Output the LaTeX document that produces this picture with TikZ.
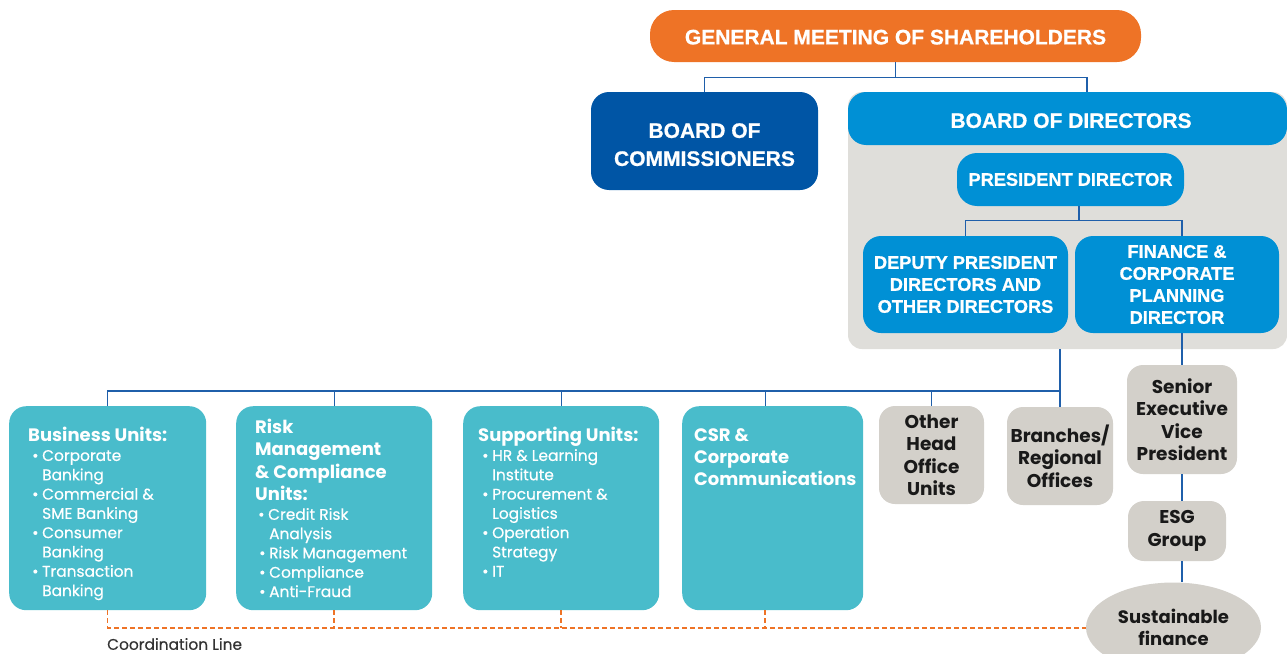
\documentclass[tikz,border=0pt]{standalone}
\usepackage{fontspec}
\setmainfont{Poppins}
\newfontfamily\capsfont[BoldFeatures={FakeBold=0.8}]{Liberation Sans}
\newfontfamily\medfont[FakeBold=0.5]{Poppins}
\usetikzlibrary{calc,shapes.geometric}

\definecolor{gmsorange}{HTML}{EE7326}
\definecolor{bocblue}{HTML}{0055A5}
\definecolor{bodblue}{HTML}{0090D5}
\definecolor{panelgray}{HTML}{DFDEDA}
\definecolor{boxgray}{HTML}{D3D0CA}
\definecolor{unitteal}{HTML}{49BCCB}
\definecolor{linkblue}{HTML}{1F5FAA}
\definecolor{labelgray}{HTML}{333333}

% text helpers for the unit boxes
\newcommand\utitle{\fontsize{18}{22.3}\selectfont\bfseries}
\newcommand\ubody{\medfont\fontsize{15.4}{19.3}\selectfont}
\newcommand\bul[1]{\mbox{\hspace*{4pt}\makebox[10pt][l]{\textbullet}#1}}
\newcommand\cnt[1]{\mbox{\hspace*{14pt}#1}}

\begin{document}
\begin{tikzpicture}[x=1pt,y=-1pt,
  capsbox/.style={inner sep=0pt, text=white, align=center,
    font=\capsfont\bfseries\fontsize{21}{27}\selectfont},
  capssmall/.style={capsbox, font=\capsfont\bfseries\fontsize{18.2}{22}\selectfont},
  unit/.style={fill=unitteal, rounded corners=17pt, inner ysep=0pt, text=white,
    minimum height=204pt, anchor=north west},
  graybox/.style={fill=boxgray, rounded corners=16pt, inner sep=0pt, align=center,
    text=black!90, font=\bfseries\fontsize{18.5}{22.5}\selectfont},
  conn/.style={draw=linkblue, line width=1.3pt},
  coordln/.style={draw=gmsorange, line width=1.5pt, dash pattern=on 5pt off 3pt},
]
\useasboundingbox (0,0) rectangle (1287,653);

% top of the structure
\node[capsbox, fill=gmsorange, rounded corners=24pt, minimum width=491pt, minimum height=52pt]
  (gms) at (895.5,36) {\rule{0pt}{17pt}GENERAL MEETING OF SHAREHOLDERS};
\node[capsbox, fill=bocblue, rounded corners=18pt, minimum width=227pt, minimum height=98pt]
  (boc) at (704.5,141) {\rule{0pt}{22pt}BOARD OF\\[1pt]COMMISSIONERS};

% board of directors panel
\node[fill=panelgray, rounded corners=14pt, minimum width=439pt, minimum height=257pt, inner sep=0pt]
  (panel) at (1067.5,220.5) {};
\node[capsbox, fill=bodblue, rounded corners=18pt, minimum width=439pt, minimum height=53pt]
  (bod) at (1067.5,118.5) {\rule{0pt}{19pt}\hspace*{7pt}BOARD OF DIRECTORS};
\node[capssmall, fill=bodblue, rounded corners=20pt, minimum width=227pt, minimum height=53pt]
  (pd) at (1070.5,179.5) {PRESIDENT DIRECTOR};
\node[capssmall, fill=bodblue, rounded corners=18pt, minimum width=205pt, minimum height=97pt]
  (dpd) at (965.5,284.5) {DEPUTY PRESIDENT\\DIRECTORS AND\\OTHER DIRECTORS};
\node[capssmall, fill=bodblue, rounded corners=18pt, minimum width=204pt, minimum height=97pt]
  (fcpd) at (1177,284.5) {FINANCE \&\\CORPORATE\\PLANNING\\DIRECTOR};

% operating units
\node[unit, inner xsep=19pt] (bu) at (9,406) {\parbox[c][204pt][t]{159pt}{\vspace*{21pt}%
  {\utitle\mbox{Business Units:}\par}%
  {\ubody\bul{Corporate}\\\cnt{Banking}\\\bul{Commercial \&}\\\cnt{SME Banking}\\\bul{Consumer}\\\cnt{Banking}\\\bul{Transaction}\\\cnt{Banking}\par}}};
\node[unit, inner xsep=19pt] (rm) at (236,406) {\parbox[c][204pt][t]{158pt}{\vspace*{13pt}%
  {\utitle\mbox{Risk}\\\mbox{Management}\\\mbox{\& Compliance}\\\mbox{Units:}\par}%
  {\ubody\hspace*{-1pt}\bul{Credit Risk}\\\cnt{Analysis}\\\bul{Risk Management}\\\bul{Compliance}\\\bul{Anti-Fraud}\par}}};
\node[unit, inner xsep=15pt] (su) at (463,406) {\parbox[c][204pt][t]{166pt}{\vspace*{21pt}%
  {\utitle\mbox{Supporting Units:}\par}%
  {\ubody\bul{HR \& Learning}\\\cnt{Institute}\\\bul{Procurement \&}\\\cnt{Logistics}\\\bul{Operation}\\\cnt{Strategy}\\\bul{IT}\par}}};
\node[unit, inner xsep=12pt] (csr) at (682,406) {\parbox[c][204pt][t]{157pt}{\vspace*{22pt}%
  {\utitle\mbox{CSR \&}\\\mbox{Corporate}\\\mbox{Communications}\par}}};

\node[graybox, minimum width=105pt, minimum height=98pt] (ohu) at (931.5,455) {Other\\Head\\Office\\Units};
\node[graybox, minimum width=106pt, minimum height=98pt] (br) at (1060,456) {Branches/\\Regional\\Offices};
\node[graybox, minimum width=110pt, minimum height=109pt] (sevp) at (1182,419.5) {Senior\\Executive\\Vice\\President};
\node[graybox, minimum width=98pt, minimum height=60pt] (esg) at (1177,531) {ESG\\Group};
\node[graybox, ellipse, minimum width=175pt, minimum height=90pt, font=\bfseries\fontsize{18}{22.5}\selectfont]
  (sf) at (1173.5,627.5) {Sustainable\\finance};

\node[anchor=west, inner sep=0pt, text=labelgray, font=\medfont\fontsize{15.4}{17}\selectfont]
  (cl) at (107,644) {Coordination Line};

% reporting lines
\coordinate (bodtap) at ($(bod.north)+(19.5,0)$);
\draw[conn] (gms.south) -- ++(0,16);
\draw[conn] (boc.north) -- ++(0,-14) -| (bodtap);

\coordinate (pdtap) at ($(pd.south)+(8.5,0)$);
\coordinate (fctap) at ($(fcpd.north)+(5,0)$);
\draw[conn] (pdtap) -- ++(0,15);
\draw[conn] (dpd.north) -- ++(0,-15) -| (fctap);

\coordinate (busL) at ($(bu.north)+(0,-15)$);
\draw[conn] (br.north |- panel.south) -- (br.north);
\draw[conn] (bu.north) -- (busL) -- (busL -| br.north);
\draw[conn] (rm.north) -- (rm.north |- busL);
\draw[conn] (su.north) -- (su.north |- busL);
\coordinate (csrtap) at ($(csr.north)+(-7.5,0)$);
\draw[conn] (csrtap) -- (csrtap |- busL);
\draw[conn] (ohu.north) -- (ohu.north |- busL);

\draw[conn] (fcpd.south -| sevp.north) -- (sevp.north);
\draw[conn] (sevp.south) -- (sevp.south |- esg.north);
\draw[conn] (esg.south -| sevp.south) -- (sevp.south |- sf.north);

% coordination line
\coordinate (coordL) at ($(bu.south)+(0,17.5)$);
\draw[coordln] (bu.south) -- (coordL) -- (coordL -| sf.west);
\draw[coordln] (rm.south) -- (rm.south |- coordL);
\draw[coordln] (su.south) -- (su.south |- coordL);
\coordinate (csrbot) at ($(csr.south)+(-7.5,0)$);
\draw[coordln] (csrbot) -- (csrbot |- coordL);
\end{tikzpicture}
\end{document}
